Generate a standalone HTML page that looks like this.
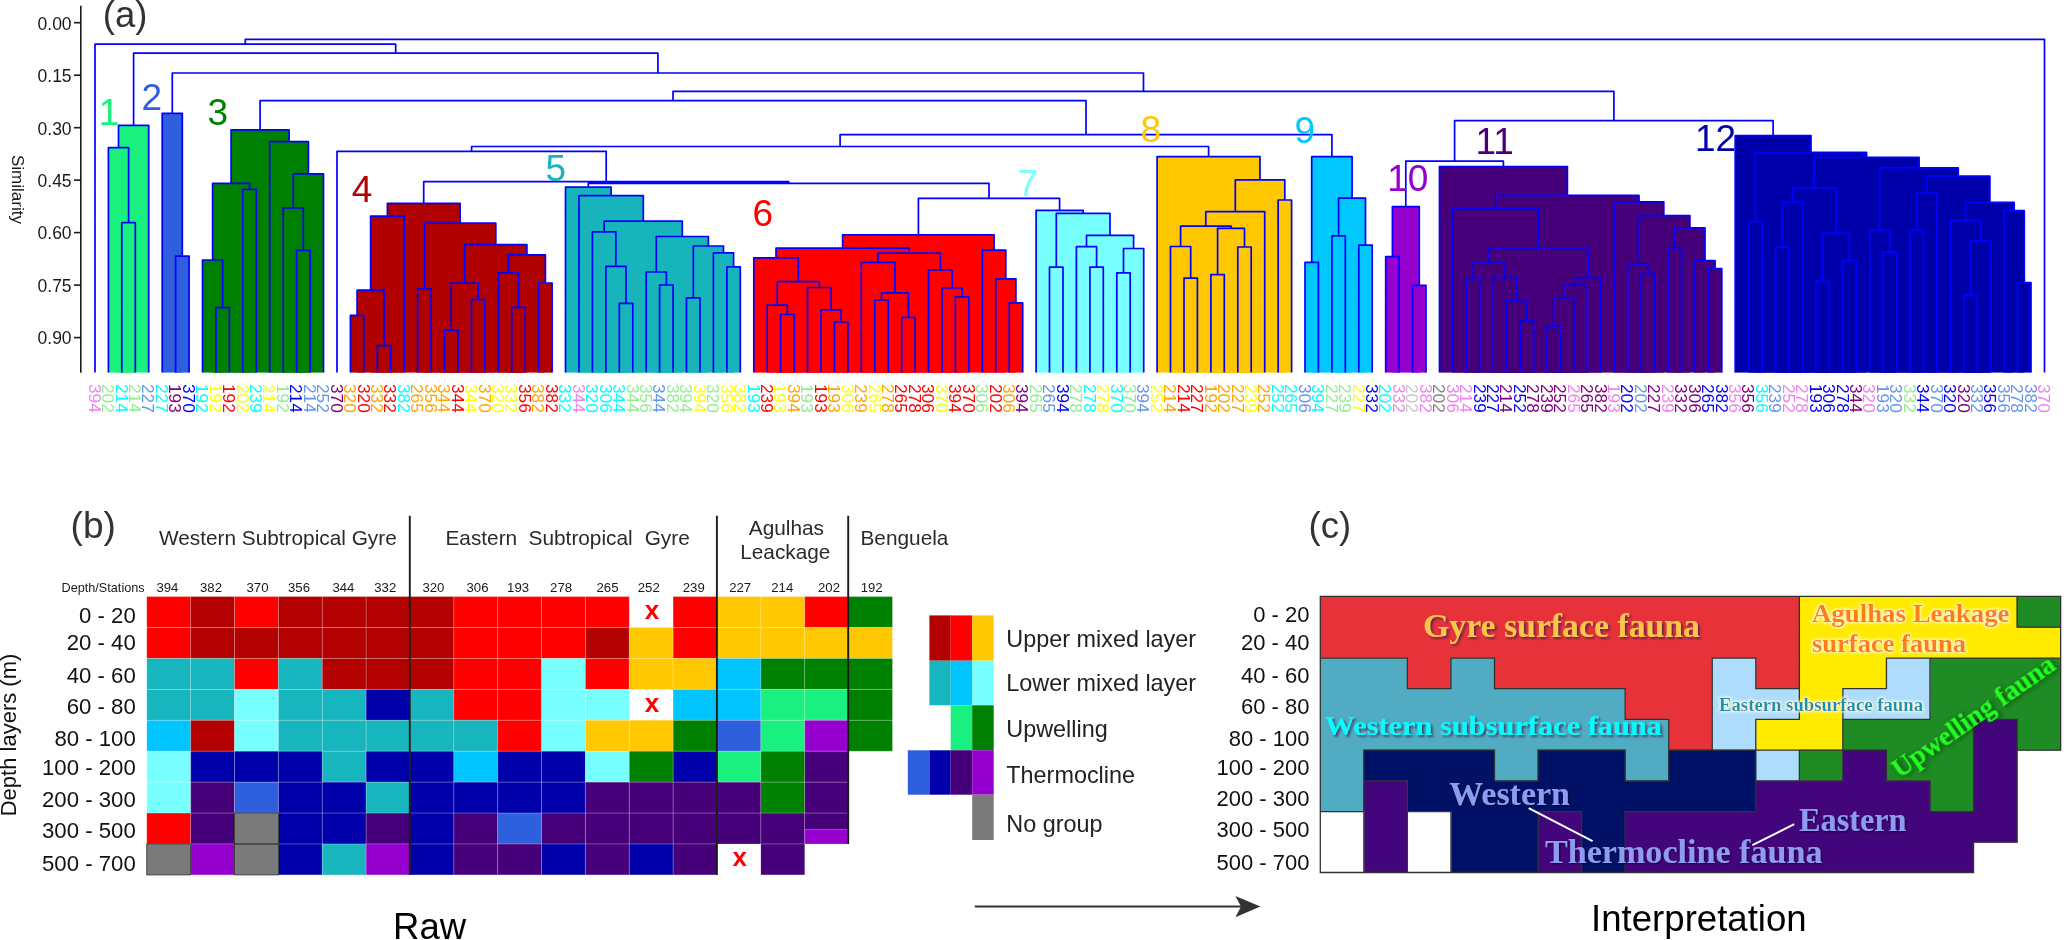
<!DOCTYPE html><html><head><meta charset="utf-8"><style>html,body{margin:0;padding:0;background:#fff}svg{display:block;will-change:transform}text{font-family:"Liberation Sans",sans-serif}text.sf{font-family:"Liberation Serif",serif;font-weight:bold}</style></head><body>
<svg width="2067" height="940" viewBox="0 0 2067 940">
<rect width="2067" height="940" fill="#fff"/>
<defs>
<filter id="shd" x="-10%" y="-30%" width="120%" height="160%"><feGaussianBlur in="SourceAlpha" stdDeviation="1.3"/><feOffset dx="1.5" dy="1.5" result="b"/><feFlood flood-color="#3a2050" flood-opacity="0.75"/><feComposite in2="b" operator="in"/><feMerge><feMergeNode/><feMergeNode in="SourceGraphic"/></feMerge></filter>
<filter id="shd2" x="-10%" y="-30%" width="120%" height="160%"><feGaussianBlur in="SourceAlpha" stdDeviation="1.2"/><feOffset dx="1.2" dy="1.2" result="b"/><feFlood flood-color="#000" flood-opacity="0.6"/><feComposite in2="b" operator="in"/><feMerge><feMergeNode/><feMergeNode in="SourceGraphic"/></feMerge></filter>
<filter id="shd3" x="-20%" y="-50%" width="140%" height="200%"><feGaussianBlur in="SourceAlpha" stdDeviation="2.5"/><feOffset dx="1.5" dy="2" result="b"/><feFlood flood-color="#0a3a0a" flood-opacity="0.8"/><feComposite in2="b" operator="in"/><feMerge><feMergeNode/><feMergeNode in="SourceGraphic"/></feMerge></filter>
<filter id="glw" x="-10%" y="-30%" width="120%" height="160%"><feMorphology in="SourceAlpha" operator="dilate" radius="0.8"/><feGaussianBlur stdDeviation="1.4" result="b"/><feFlood flood-color="#fffbe0" flood-opacity="0.95"/><feComposite in2="b" operator="in"/><feMerge><feMergeNode/><feMergeNode in="SourceGraphic"/></feMerge></filter>
</defs>
<text x="102.8" y="26.6" font-size="36.5" fill="#333">(a)</text>
<path d="M80.8 5.7V372.7" stroke="#1a1a1a" stroke-width="1.6" fill="none"/>
<path d="M74 22.7H81" stroke="#1a1a1a" stroke-width="1.6"/>
<text x="71.6" y="29.5" font-size="17.5" fill="#1a1a1a" text-anchor="end">0.00</text>
<path d="M74 75.2H81" stroke="#1a1a1a" stroke-width="1.6"/>
<text x="71.6" y="82.0" font-size="17.5" fill="#1a1a1a" text-anchor="end">0.15</text>
<path d="M74 127.7H81" stroke="#1a1a1a" stroke-width="1.6"/>
<text x="71.6" y="134.5" font-size="17.5" fill="#1a1a1a" text-anchor="end">0.30</text>
<path d="M74 180.1H81" stroke="#1a1a1a" stroke-width="1.6"/>
<text x="71.6" y="186.9" font-size="17.5" fill="#1a1a1a" text-anchor="end">0.45</text>
<path d="M74 232.6H81" stroke="#1a1a1a" stroke-width="1.6"/>
<text x="71.6" y="239.4" font-size="17.5" fill="#1a1a1a" text-anchor="end">0.60</text>
<path d="M74 285.1H81" stroke="#1a1a1a" stroke-width="1.6"/>
<text x="71.6" y="291.9" font-size="17.5" fill="#1a1a1a" text-anchor="end">0.75</text>
<path d="M74 337.6H81" stroke="#1a1a1a" stroke-width="1.6"/>
<text x="71.6" y="344.4" font-size="17.5" fill="#1a1a1a" text-anchor="end">0.90</text>
<text transform="translate(11.6 155) rotate(90)" font-size="17" fill="#1a1a1a">Similarity</text>
<rect x="118.5" y="125.3" width="30.3" height="247.3" fill="#19f07d"/>
<rect x="108.4" y="147.7" width="20.2" height="224.9" fill="#19f07d"/>
<rect x="121.8" y="222.7" width="13.4" height="149.9" fill="#19f07d"/>
<rect x="162.2" y="113.4" width="20.2" height="259.2" fill="#2f5fdc"/>
<rect x="175.6" y="256.1" width="13.4" height="116.5" fill="#2f5fdc"/>
<rect x="231.1" y="129.8" width="58.0" height="242.8" fill="#008000"/>
<rect x="212.6" y="183.4" width="37.0" height="189.2" fill="#008000"/>
<rect x="202.5" y="260.0" width="20.2" height="112.6" fill="#008000"/>
<rect x="216.0" y="307.6" width="13.4" height="65.0" fill="#008000"/>
<rect x="242.8" y="189.4" width="13.4" height="183.2" fill="#008000"/>
<rect x="269.7" y="141.7" width="38.7" height="230.9" fill="#008000"/>
<rect x="293.3" y="173.9" width="30.3" height="198.7" fill="#008000"/>
<rect x="283.2" y="208.0" width="20.2" height="164.6" fill="#008000"/>
<rect x="296.6" y="250.4" width="13.4" height="122.2" fill="#008000"/>
<rect x="387.4" y="203.3" width="72.7" height="169.3" fill="#b00000"/>
<rect x="370.6" y="216.1" width="33.6" height="156.5" fill="#b00000"/>
<rect x="357.1" y="290.2" width="26.9" height="82.4" fill="#b00000"/>
<rect x="350.4" y="315.4" width="13.4" height="57.2" fill="#b00000"/>
<rect x="377.3" y="345.6" width="13.4" height="27.0" fill="#b00000"/>
<rect x="424.4" y="223.0" width="71.4" height="149.6" fill="#b00000"/>
<rect x="417.6" y="288.9" width="13.4" height="83.7" fill="#b00000"/>
<rect x="464.7" y="244.7" width="62.2" height="127.9" fill="#b00000"/>
<rect x="451.2" y="283.0" width="26.9" height="89.6" fill="#b00000"/>
<rect x="444.5" y="330.2" width="13.4" height="42.4" fill="#b00000"/>
<rect x="471.4" y="299.6" width="13.4" height="73.0" fill="#b00000"/>
<rect x="508.4" y="254.9" width="37.0" height="117.7" fill="#b00000"/>
<rect x="498.3" y="272.8" width="20.2" height="99.8" fill="#b00000"/>
<rect x="511.7" y="307.3" width="13.4" height="65.3" fill="#b00000"/>
<rect x="538.6" y="283.0" width="13.4" height="89.6" fill="#b00000"/>
<rect x="565.5" y="187.2" width="45.6" height="185.4" fill="#17b4bc"/>
<rect x="579.0" y="195.7" width="64.3" height="176.9" fill="#17b4bc"/>
<rect x="604.2" y="221.2" width="78.1" height="151.4" fill="#17b4bc"/>
<rect x="592.4" y="231.9" width="23.5" height="140.7" fill="#17b4bc"/>
<rect x="605.9" y="266.4" width="20.2" height="106.2" fill="#17b4bc"/>
<rect x="619.3" y="303.4" width="13.4" height="69.2" fill="#17b4bc"/>
<rect x="656.3" y="236.5" width="52.1" height="136.1" fill="#17b4bc"/>
<rect x="646.2" y="272.0" width="20.2" height="100.6" fill="#17b4bc"/>
<rect x="659.6" y="285.0" width="13.4" height="87.6" fill="#17b4bc"/>
<rect x="693.3" y="246.0" width="30.3" height="126.6" fill="#17b4bc"/>
<rect x="686.5" y="297.8" width="13.4" height="74.8" fill="#17b4bc"/>
<rect x="713.4" y="252.9" width="20.2" height="119.7" fill="#17b4bc"/>
<rect x="726.9" y="266.9" width="13.4" height="105.7" fill="#17b4bc"/>
<rect x="842.6" y="234.9" width="151.5" height="137.7" fill="#ff0000"/>
<rect x="776.0" y="248.2" width="133.2" height="124.4" fill="#ff0000"/>
<rect x="753.8" y="257.8" width="44.5" height="114.8" fill="#ff0000"/>
<rect x="777.3" y="281.7" width="42.0" height="90.9" fill="#ff0000"/>
<rect x="767.2" y="305.1" width="20.2" height="67.5" fill="#ff0000"/>
<rect x="780.6" y="314.5" width="13.4" height="58.1" fill="#ff0000"/>
<rect x="807.5" y="287.5" width="23.5" height="85.1" fill="#ff0000"/>
<rect x="821.0" y="309.8" width="20.2" height="62.8" fill="#ff0000"/>
<rect x="834.4" y="322.0" width="13.4" height="50.6" fill="#ff0000"/>
<rect x="878.1" y="253.1" width="62.2" height="119.5" fill="#ff0000"/>
<rect x="861.3" y="262.3" width="33.6" height="110.3" fill="#ff0000"/>
<rect x="881.5" y="292.9" width="26.9" height="79.7" fill="#ff0000"/>
<rect x="874.8" y="300.0" width="13.4" height="72.6" fill="#ff0000"/>
<rect x="901.7" y="317.3" width="13.4" height="55.3" fill="#ff0000"/>
<rect x="928.5" y="270.0" width="23.5" height="102.6" fill="#ff0000"/>
<rect x="942.0" y="288.0" width="20.2" height="84.6" fill="#ff0000"/>
<rect x="955.4" y="296.9" width="13.4" height="75.7" fill="#ff0000"/>
<rect x="982.3" y="250.1" width="23.5" height="122.5" fill="#ff0000"/>
<rect x="995.8" y="278.9" width="20.2" height="93.7" fill="#ff0000"/>
<rect x="1009.2" y="302.8" width="13.4" height="69.8" fill="#ff0000"/>
<rect x="1036.1" y="210.3" width="47.1" height="162.3" fill="#78ffff"/>
<rect x="1056.3" y="213.4" width="53.8" height="159.2" fill="#78ffff"/>
<rect x="1049.5" y="267.2" width="13.4" height="105.4" fill="#78ffff"/>
<rect x="1086.5" y="235.4" width="47.1" height="137.2" fill="#78ffff"/>
<rect x="1076.4" y="246.6" width="20.2" height="126.0" fill="#78ffff"/>
<rect x="1089.9" y="267.2" width="13.4" height="105.4" fill="#78ffff"/>
<rect x="1123.5" y="248.5" width="20.2" height="124.1" fill="#78ffff"/>
<rect x="1116.8" y="272.8" width="13.4" height="99.8" fill="#78ffff"/>
<rect x="1157.1" y="156.6" width="102.9" height="216.0" fill="#ffc800"/>
<rect x="1235.3" y="179.8" width="49.6" height="192.8" fill="#ffc800"/>
<rect x="1205.8" y="211.7" width="58.8" height="160.9" fill="#ffc800"/>
<rect x="1180.6" y="226.1" width="50.4" height="146.5" fill="#ffc800"/>
<rect x="1170.5" y="246.5" width="20.2" height="126.1" fill="#ffc800"/>
<rect x="1184.0" y="278.1" width="13.4" height="94.5" fill="#ffc800"/>
<rect x="1217.6" y="228.4" width="26.9" height="144.2" fill="#ffc800"/>
<rect x="1210.9" y="274.7" width="13.4" height="97.9" fill="#ffc800"/>
<rect x="1237.8" y="247.0" width="13.4" height="125.6" fill="#ffc800"/>
<rect x="1278.1" y="200.0" width="13.4" height="172.6" fill="#ffc800"/>
<rect x="1311.7" y="156.6" width="40.3" height="216.0" fill="#00c8ff"/>
<rect x="1305.0" y="262.3" width="13.4" height="110.3" fill="#00c8ff"/>
<rect x="1338.6" y="198.2" width="26.9" height="174.4" fill="#00c8ff"/>
<rect x="1331.9" y="235.9" width="13.4" height="136.7" fill="#00c8ff"/>
<rect x="1358.8" y="245.1" width="13.4" height="127.5" fill="#00c8ff"/>
<rect x="1392.4" y="206.6" width="26.9" height="166.0" fill="#9500cf"/>
<rect x="1385.7" y="256.6" width="13.4" height="116.0" fill="#9500cf"/>
<rect x="1412.6" y="285.3" width="13.4" height="87.3" fill="#9500cf"/>
<rect x="1439.5" y="166.6" width="127.9" height="206.0" fill="#46007a"/>
<rect x="1495.8" y="195.3" width="143.3" height="177.3" fill="#46007a"/>
<rect x="1452.9" y="208.7" width="85.7" height="163.9" fill="#46007a"/>
<rect x="1489.0" y="249.1" width="99.2" height="123.5" fill="#46007a"/>
<rect x="1473.1" y="263.0" width="31.9" height="109.6" fill="#46007a"/>
<rect x="1466.3" y="278.0" width="13.4" height="94.6" fill="#46007a"/>
<rect x="1493.2" y="277.7" width="23.5" height="94.9" fill="#46007a"/>
<rect x="1506.7" y="300.5" width="20.2" height="72.1" fill="#46007a"/>
<rect x="1520.1" y="320.8" width="13.4" height="51.8" fill="#46007a"/>
<rect x="1575.6" y="277.7" width="25.2" height="94.9" fill="#46007a"/>
<rect x="1563.8" y="285.1" width="23.5" height="87.5" fill="#46007a"/>
<rect x="1553.7" y="298.0" width="20.2" height="74.6" fill="#46007a"/>
<rect x="1547.0" y="326.2" width="13.4" height="46.4" fill="#46007a"/>
<rect x="1614.2" y="201.9" width="49.6" height="170.7" fill="#46007a"/>
<rect x="1637.8" y="215.6" width="52.1" height="157.0" fill="#46007a"/>
<rect x="1627.7" y="263.8" width="20.2" height="108.8" fill="#46007a"/>
<rect x="1641.1" y="273.6" width="13.4" height="99.0" fill="#46007a"/>
<rect x="1674.7" y="227.8" width="30.3" height="144.8" fill="#46007a"/>
<rect x="1668.0" y="247.9" width="13.4" height="124.7" fill="#46007a"/>
<rect x="1694.9" y="260.6" width="20.2" height="112.0" fill="#46007a"/>
<rect x="1708.4" y="268.7" width="13.4" height="103.9" fill="#46007a"/>
<rect x="1735.2" y="135.6" width="75.8" height="237.0" fill="#0000aa"/>
<rect x="1755.4" y="152.4" width="111.2" height="220.2" fill="#0000aa"/>
<rect x="1748.7" y="221.5" width="13.4" height="151.1" fill="#0000aa"/>
<rect x="1814.2" y="157.3" width="104.8" height="215.3" fill="#0000aa"/>
<rect x="1792.4" y="187.8" width="43.7" height="184.8" fill="#0000aa"/>
<rect x="1782.3" y="202.4" width="20.2" height="170.2" fill="#0000aa"/>
<rect x="1775.6" y="247.2" width="13.4" height="125.4" fill="#0000aa"/>
<rect x="1822.6" y="233.4" width="26.9" height="139.2" fill="#0000aa"/>
<rect x="1815.9" y="281.3" width="13.4" height="91.3" fill="#0000aa"/>
<rect x="1842.8" y="260.5" width="13.4" height="112.1" fill="#0000aa"/>
<rect x="1879.8" y="167.9" width="78.6" height="204.7" fill="#0000aa"/>
<rect x="1869.7" y="229.8" width="20.2" height="142.8" fill="#0000aa"/>
<rect x="1883.1" y="252.2" width="13.4" height="120.4" fill="#0000aa"/>
<rect x="1926.8" y="176.2" width="63.0" height="196.4" fill="#0000aa"/>
<rect x="1916.7" y="192.8" width="20.2" height="179.8" fill="#0000aa"/>
<rect x="1910.0" y="229.8" width="13.4" height="142.8" fill="#0000aa"/>
<rect x="1965.5" y="202.4" width="48.7" height="170.2" fill="#0000aa"/>
<rect x="1950.4" y="220.4" width="30.3" height="152.2" fill="#0000aa"/>
<rect x="1970.5" y="240.9" width="20.2" height="131.7" fill="#0000aa"/>
<rect x="1963.8" y="294.8" width="13.4" height="77.8" fill="#0000aa"/>
<rect x="2004.1" y="210.7" width="20.2" height="161.9" fill="#0000aa"/>
<rect x="2017.6" y="282.7" width="13.4" height="89.9" fill="#0000aa"/>
<path d="M245.3 44.2V39.4H2044.5V372.6M95.0 372.6V44.2H395.7V53.2M133.6 125.3V53.2H657.9V73.0M118.5 147.7V125.3H148.7V372.6M108.4 372.6V147.7H128.6V222.7M121.8 372.6V222.7H135.3V372.6M172.3 113.4V73.0H1143.5V91.3M162.2 372.6V113.4H182.3V256.1M175.6 372.6V256.1H189.1V372.6M673.0 100.6V91.3H1613.9V120.6M260.1 129.8V100.6H1086.0V134.6M231.1 183.4V129.8H289.1V141.7M212.6 260.0V183.4H249.6V189.4M202.5 372.6V260.0H222.7V307.6M216.0 372.6V307.6H229.4V372.6M242.8 372.6V189.4H256.3V372.6M269.7 372.6V141.7H308.4V173.9M293.3 208.0V173.9H323.5V372.6M283.2 372.6V208.0H303.3V250.4M296.6 372.6V250.4H310.1V372.6M840.1 146.5V134.6H1331.9V156.6M471.6 151.3V146.5H1208.6V156.6M337.0 372.6V151.3H606.2V181.6M423.7 203.3V181.6H788.7V183.4M387.4 216.1V203.3H460.1V223.0M370.6 290.2V216.1H404.2V372.6M357.1 315.4V290.2H384.0V345.6M350.4 372.6V315.4H363.8V372.6M377.3 372.6V345.6H390.7V372.6M424.4 288.9V223.0H495.8V244.7M417.6 372.6V288.9H431.1V372.6M464.7 283.0V244.7H526.9V254.9M451.2 330.2V283.0H478.1V299.6M444.5 372.6V330.2H458.0V372.6M471.4 372.6V299.6H484.9V372.6M508.4 272.8V254.9H545.4V283.0M498.3 372.6V272.8H518.5V307.3M511.7 372.6V307.3H525.2V372.6M538.6 372.6V283.0H552.1V372.6M588.3 187.2V183.4H989.0V198.4M565.5 372.6V187.2H611.1V195.7M579.0 372.6V195.7H643.3V221.2M604.2 231.9V221.2H682.3V236.5M592.4 372.6V231.9H615.9V266.4M605.9 372.6V266.4H626.0V303.4M619.3 372.6V303.4H632.8V372.6M656.3 272.0V236.5H708.4V246.0M646.2 372.6V272.0H666.4V285.0M659.6 372.6V285.0H673.1V372.6M693.3 297.8V246.0H723.5V252.9M686.5 372.6V297.8H700.0V372.6M713.4 372.6V252.9H733.6V266.9M726.9 372.6V266.9H740.3V372.6M918.4 234.9V198.4H1059.6V210.3M842.6 248.2V234.9H994.1V250.1M776.0 257.8V248.2H909.2V253.1M753.8 372.6V257.8H798.3V281.7M777.3 305.1V281.7H819.3V287.5M767.2 372.6V305.1H787.4V314.5M780.6 372.6V314.5H794.1V372.6M807.5 372.6V287.5H831.1V309.8M821.0 372.6V309.8H841.1V322.0M834.4 372.6V322.0H847.9V372.6M878.1 262.3V253.1H940.3V270.0M861.3 372.6V262.3H894.9V292.9M881.5 300.0V292.9H908.4V317.3M874.8 372.6V300.0H888.2V372.6M901.7 372.6V317.3H915.1V372.6M928.5 372.6V270.0H952.1V288.0M942.0 372.6V288.0H962.2V296.9M955.4 372.6V296.9H968.9V372.6M982.3 372.6V250.1H1005.8V278.9M995.8 372.6V278.9H1015.9V302.8M1009.2 372.6V302.8H1022.7V372.6M1036.1 372.6V210.3H1083.2V213.4M1056.3 267.2V213.4H1110.0V235.4M1049.5 372.6V267.2H1063.0V372.6M1086.5 246.6V235.4H1133.6V248.5M1076.4 372.6V246.6H1096.6V267.2M1089.9 372.6V267.2H1103.3V372.6M1123.5 272.8V248.5H1143.7V372.6M1116.8 372.6V272.8H1130.2V372.6M1157.1 372.6V156.6H1260.0V179.8M1235.3 211.7V179.8H1284.8V200.0M1205.8 226.1V211.7H1264.7V372.6M1180.6 246.5V226.1H1231.1V228.4M1170.5 372.6V246.5H1190.7V278.1M1184.0 372.6V278.1H1197.4V372.6M1217.6 274.7V228.4H1244.5V247.0M1210.9 372.6V274.7H1224.3V372.6M1237.8 372.6V247.0H1251.2V372.6M1278.1 372.6V200.0H1291.6V372.6M1311.7 262.3V156.6H1352.1V198.2M1305.0 372.6V262.3H1318.4V372.6M1338.6 235.9V198.2H1365.5V245.1M1331.9 372.6V235.9H1345.3V372.6M1358.8 372.6V245.1H1372.2V372.6M1454.6 161.2V120.6H1773.1V135.6M1405.8 206.6V161.2H1503.4V166.6M1392.4 256.6V206.6H1419.3V285.3M1385.7 372.6V256.6H1399.1V372.6M1412.6 372.6V285.3H1426.0V372.6M1439.5 372.6V166.6H1567.4V195.3M1495.8 208.7V195.3H1639.0V201.9M1452.9 372.6V208.7H1538.6V249.1M1489.0 263.0V249.1H1588.2V277.7M1473.1 278.0V263.0H1505.0V277.7M1466.3 372.6V278.0H1479.8V372.6M1493.2 372.6V277.7H1516.8V300.5M1506.7 372.6V300.5H1526.8V320.8M1520.1 372.6V320.8H1533.6V372.6M1575.6 285.1V277.7H1600.8V372.6M1563.8 298.0V285.1H1587.3V372.6M1553.7 326.2V298.0H1573.9V372.6M1547.0 372.6V326.2H1560.5V372.6M1614.2 372.6V201.9H1663.8V215.6M1637.8 263.8V215.6H1689.9V227.8M1627.7 372.6V263.8H1647.8V273.6M1641.1 372.6V273.6H1654.6V372.6M1674.7 247.9V227.8H1705.0V260.6M1668.0 372.6V247.9H1681.5V372.6M1694.9 372.6V260.6H1715.1V268.7M1708.4 372.6V268.7H1721.8V372.6M1735.2 372.6V135.6H1811.0V152.4M1755.4 221.5V152.4H1866.6V157.3M1748.7 372.6V221.5H1762.1V372.6M1814.2 187.8V157.3H1919.1V167.9M1792.4 202.4V187.8H1836.1V233.4M1782.3 247.2V202.4H1802.5V372.6M1775.6 372.6V247.2H1789.0V372.6M1822.6 281.3V233.4H1849.5V260.5M1815.9 372.6V281.3H1829.4V372.6M1842.8 372.6V260.5H1856.2V372.6M1879.8 229.8V167.9H1958.3V176.2M1869.7 372.6V229.8H1889.9V252.2M1883.1 372.6V252.2H1896.6V372.6M1926.8 192.8V176.2H1989.9V202.4M1916.7 229.8V192.8H1936.9V372.6M1910.0 372.6V229.8H1923.5V372.6M1965.5 220.4V202.4H2014.2V210.7M1950.4 372.6V220.4H1980.6V240.9M1970.5 294.8V240.9H1990.7V372.6M1963.8 372.6V294.8H1977.2V372.6M2004.1 372.6V210.7H2024.3V282.7M2017.6 372.6V282.7H2031.0V372.6" stroke="#0000ff" stroke-width="1.7" fill="none" stroke-linejoin="round"/>
<text class="cn" x="98.8" y="125.0" font-size="37" fill="#19f07d">1</text>
<text class="cn" x="141.6" y="109.6" font-size="37" fill="#2f5fdc">2</text>
<text class="cn" x="207.6" y="125.1" font-size="37" fill="#008000">3</text>
<text class="cn" x="351.8" y="201.9" font-size="37" fill="#b00000">4</text>
<text class="cn" x="545.4" y="180.5" font-size="37" fill="#17b4bc">5</text>
<text class="cn" x="752.4" y="225.7" font-size="37" fill="#ff0000">6</text>
<text class="cn" x="1017.6" y="196.1" font-size="37" fill="#78ffff">7</text>
<text class="cn" x="1140.4" y="141.8" font-size="37" fill="#ffc800">8</text>
<text class="cn" x="1294.5" y="143.1" font-size="37" fill="#00c8ff">9</text>
<text class="cn" x="1387.2" y="191.4" font-size="37" fill="#9500cf">10</text>
<text class="cn" x="1475.5" y="153.6" font-size="37" fill="#46007a">11</text>
<text class="cn" x="1694.9" y="151.2" font-size="37" fill="#0000aa">12</text>
<text transform="translate(95.0 384.0) rotate(90)" y="6.2" font-size="17.3" fill="#ee82ee">394</text>
<text transform="translate(108.4 384.0) rotate(90)" y="6.2" font-size="17.3" fill="#90ee90">202</text>
<text transform="translate(121.8 384.0) rotate(90)" y="6.2" font-size="17.3" fill="#00ffff">214</text>
<text transform="translate(135.3 384.0) rotate(90)" y="6.2" font-size="17.3" fill="#90ee90">214</text>
<text transform="translate(148.7 384.0) rotate(90)" y="6.2" font-size="17.3" fill="#6495ed">227</text>
<text transform="translate(162.2 384.0) rotate(90)" y="6.2" font-size="17.3" fill="#00ffff">227</text>
<text transform="translate(175.6 384.0) rotate(90)" y="6.2" font-size="17.3" fill="#800080">193</text>
<text transform="translate(189.1 384.0) rotate(90)" y="6.2" font-size="17.3" fill="#0000ff">370</text>
<text transform="translate(202.5 384.0) rotate(90)" y="6.2" font-size="17.3" fill="#00ffff">192</text>
<text transform="translate(216.0 384.0) rotate(90)" y="6.2" font-size="17.3" fill="#ffff00">192</text>
<text transform="translate(229.4 384.0) rotate(90)" y="6.2" font-size="17.3" fill="#ff0000">192</text>
<text transform="translate(242.8 384.0) rotate(90)" y="6.2" font-size="17.3" fill="#ffff00">202</text>
<text transform="translate(256.3 384.0) rotate(90)" y="6.2" font-size="17.3" fill="#00ffff">239</text>
<text transform="translate(269.7 384.0) rotate(90)" y="6.2" font-size="17.3" fill="#ffff00">214</text>
<text transform="translate(283.2 384.0) rotate(90)" y="6.2" font-size="17.3" fill="#90ee90">192</text>
<text transform="translate(296.6 384.0) rotate(90)" y="6.2" font-size="17.3" fill="#0000ff">214</text>
<text transform="translate(310.1 384.0) rotate(90)" y="6.2" font-size="17.3" fill="#6495ed">214</text>
<text transform="translate(323.5 384.0) rotate(90)" y="6.2" font-size="17.3" fill="#6495ed">252</text>
<text transform="translate(337.0 384.0) rotate(90)" y="6.2" font-size="17.3" fill="#800080">370</text>
<text transform="translate(350.4 384.0) rotate(90)" y="6.2" font-size="17.3" fill="#ffa500">320</text>
<text transform="translate(363.8 384.0) rotate(90)" y="6.2" font-size="17.3" fill="#ff0000">320</text>
<text transform="translate(377.3 384.0) rotate(90)" y="6.2" font-size="17.3" fill="#ffa500">332</text>
<text transform="translate(390.7 384.0) rotate(90)" y="6.2" font-size="17.3" fill="#ff0000">332</text>
<text transform="translate(404.2 384.0) rotate(90)" y="6.2" font-size="17.3" fill="#00ffff">382</text>
<text transform="translate(417.6 384.0) rotate(90)" y="6.2" font-size="17.3" fill="#ffa500">265</text>
<text transform="translate(431.1 384.0) rotate(90)" y="6.2" font-size="17.3" fill="#ffa500">356</text>
<text transform="translate(444.5 384.0) rotate(90)" y="6.2" font-size="17.3" fill="#ffa500">344</text>
<text transform="translate(458.0 384.0) rotate(90)" y="6.2" font-size="17.3" fill="#ff0000">344</text>
<text transform="translate(471.4 384.0) rotate(90)" y="6.2" font-size="17.3" fill="#ffff00">344</text>
<text transform="translate(484.9 384.0) rotate(90)" y="6.2" font-size="17.3" fill="#ffa500">370</text>
<text transform="translate(498.3 384.0) rotate(90)" y="6.2" font-size="17.3" fill="#ffff00">320</text>
<text transform="translate(511.7 384.0) rotate(90)" y="6.2" font-size="17.3" fill="#ffff00">332</text>
<text transform="translate(525.2 384.0) rotate(90)" y="6.2" font-size="17.3" fill="#ff0000">356</text>
<text transform="translate(538.6 384.0) rotate(90)" y="6.2" font-size="17.3" fill="#ffa500">382</text>
<text transform="translate(552.1 384.0) rotate(90)" y="6.2" font-size="17.3" fill="#ff0000">382</text>
<text transform="translate(565.5 384.0) rotate(90)" y="6.2" font-size="17.3" fill="#00ffff">332</text>
<text transform="translate(579.0 384.0) rotate(90)" y="6.2" font-size="17.3" fill="#ee82ee">344</text>
<text transform="translate(592.4 384.0) rotate(90)" y="6.2" font-size="17.3" fill="#00ffff">320</text>
<text transform="translate(605.9 384.0) rotate(90)" y="6.2" font-size="17.3" fill="#00ffff">306</text>
<text transform="translate(619.3 384.0) rotate(90)" y="6.2" font-size="17.3" fill="#00ffff">344</text>
<text transform="translate(632.8 384.0) rotate(90)" y="6.2" font-size="17.3" fill="#90ee90">344</text>
<text transform="translate(646.2 384.0) rotate(90)" y="6.2" font-size="17.3" fill="#90ee90">356</text>
<text transform="translate(659.6 384.0) rotate(90)" y="6.2" font-size="17.3" fill="#6495ed">344</text>
<text transform="translate(673.1 384.0) rotate(90)" y="6.2" font-size="17.3" fill="#90ee90">382</text>
<text transform="translate(686.5 384.0) rotate(90)" y="6.2" font-size="17.3" fill="#90ee90">394</text>
<text transform="translate(700.0 384.0) rotate(90)" y="6.2" font-size="17.3" fill="#ffff00">394</text>
<text transform="translate(713.4 384.0) rotate(90)" y="6.2" font-size="17.3" fill="#90ee90">320</text>
<text transform="translate(726.9 384.0) rotate(90)" y="6.2" font-size="17.3" fill="#ffff00">356</text>
<text transform="translate(740.3 384.0) rotate(90)" y="6.2" font-size="17.3" fill="#ffff00">382</text>
<text transform="translate(753.8 384.0) rotate(90)" y="6.2" font-size="17.3" fill="#00ffff">193</text>
<text transform="translate(767.2 384.0) rotate(90)" y="6.2" font-size="17.3" fill="#ff0000">239</text>
<text transform="translate(780.6 384.0) rotate(90)" y="6.2" font-size="17.3" fill="#ffff00">193</text>
<text transform="translate(794.1 384.0) rotate(90)" y="6.2" font-size="17.3" fill="#ffa500">394</text>
<text transform="translate(807.5 384.0) rotate(90)" y="6.2" font-size="17.3" fill="#90ee90">193</text>
<text transform="translate(821.0 384.0) rotate(90)" y="6.2" font-size="17.3" fill="#ff0000">193</text>
<text transform="translate(834.4 384.0) rotate(90)" y="6.2" font-size="17.3" fill="#ffa500">193</text>
<text transform="translate(847.9 384.0) rotate(90)" y="6.2" font-size="17.3" fill="#ffff00">306</text>
<text transform="translate(861.3 384.0) rotate(90)" y="6.2" font-size="17.3" fill="#ffa500">239</text>
<text transform="translate(874.8 384.0) rotate(90)" y="6.2" font-size="17.3" fill="#ffff00">265</text>
<text transform="translate(888.2 384.0) rotate(90)" y="6.2" font-size="17.3" fill="#ffa500">278</text>
<text transform="translate(901.7 384.0) rotate(90)" y="6.2" font-size="17.3" fill="#ff0000">265</text>
<text transform="translate(915.1 384.0) rotate(90)" y="6.2" font-size="17.3" fill="#ff0000">278</text>
<text transform="translate(928.5 384.0) rotate(90)" y="6.2" font-size="17.3" fill="#ff0000">306</text>
<text transform="translate(942.0 384.0) rotate(90)" y="6.2" font-size="17.3" fill="#ffff00">370</text>
<text transform="translate(955.4 384.0) rotate(90)" y="6.2" font-size="17.3" fill="#ff0000">394</text>
<text transform="translate(968.9 384.0) rotate(90)" y="6.2" font-size="17.3" fill="#ff0000">370</text>
<text transform="translate(982.3 384.0) rotate(90)" y="6.2" font-size="17.3" fill="#90ee90">306</text>
<text transform="translate(995.8 384.0) rotate(90)" y="6.2" font-size="17.3" fill="#ff0000">202</text>
<text transform="translate(1009.2 384.0) rotate(90)" y="6.2" font-size="17.3" fill="#ffa500">306</text>
<text transform="translate(1022.7 384.0) rotate(90)" y="6.2" font-size="17.3" fill="#800080">394</text>
<text transform="translate(1036.1 384.0) rotate(90)" y="6.2" font-size="17.3" fill="#90ee90">265</text>
<text transform="translate(1049.5 384.0) rotate(90)" y="6.2" font-size="17.3" fill="#6495ed">265</text>
<text transform="translate(1063.0 384.0) rotate(90)" y="6.2" font-size="17.3" fill="#0000ff">394</text>
<text transform="translate(1076.4 384.0) rotate(90)" y="6.2" font-size="17.3" fill="#90ee90">278</text>
<text transform="translate(1089.9 384.0) rotate(90)" y="6.2" font-size="17.3" fill="#00ffff">278</text>
<text transform="translate(1103.3 384.0) rotate(90)" y="6.2" font-size="17.3" fill="#ffff00">278</text>
<text transform="translate(1116.8 384.0) rotate(90)" y="6.2" font-size="17.3" fill="#00ffff">370</text>
<text transform="translate(1130.2 384.0) rotate(90)" y="6.2" font-size="17.3" fill="#90ee90">370</text>
<text transform="translate(1143.7 384.0) rotate(90)" y="6.2" font-size="17.3" fill="#6495ed">394</text>
<text transform="translate(1157.1 384.0) rotate(90)" y="6.2" font-size="17.3" fill="#ffff00">252</text>
<text transform="translate(1170.5 384.0) rotate(90)" y="6.2" font-size="17.3" fill="#ffa500">214</text>
<text transform="translate(1184.0 384.0) rotate(90)" y="6.2" font-size="17.3" fill="#ff0000">214</text>
<text transform="translate(1197.4 384.0) rotate(90)" y="6.2" font-size="17.3" fill="#ff0000">227</text>
<text transform="translate(1210.9 384.0) rotate(90)" y="6.2" font-size="17.3" fill="#ffa500">192</text>
<text transform="translate(1224.3 384.0) rotate(90)" y="6.2" font-size="17.3" fill="#ffa500">202</text>
<text transform="translate(1237.8 384.0) rotate(90)" y="6.2" font-size="17.3" fill="#ffa500">227</text>
<text transform="translate(1251.2 384.0) rotate(90)" y="6.2" font-size="17.3" fill="#ffff00">239</text>
<text transform="translate(1264.7 384.0) rotate(90)" y="6.2" font-size="17.3" fill="#ffa500">252</text>
<text transform="translate(1278.1 384.0) rotate(90)" y="6.2" font-size="17.3" fill="#00ffff">252</text>
<text transform="translate(1291.6 384.0) rotate(90)" y="6.2" font-size="17.3" fill="#00ffff">265</text>
<text transform="translate(1305.0 384.0) rotate(90)" y="6.2" font-size="17.3" fill="#6495ed">306</text>
<text transform="translate(1318.4 384.0) rotate(90)" y="6.2" font-size="17.3" fill="#00ffff">394</text>
<text transform="translate(1331.9 384.0) rotate(90)" y="6.2" font-size="17.3" fill="#90ee90">227</text>
<text transform="translate(1345.3 384.0) rotate(90)" y="6.2" font-size="17.3" fill="#90ee90">239</text>
<text transform="translate(1358.8 384.0) rotate(90)" y="6.2" font-size="17.3" fill="#ffff00">227</text>
<text transform="translate(1372.2 384.0) rotate(90)" y="6.2" font-size="17.3" fill="#0000ff">332</text>
<text transform="translate(1385.7 384.0) rotate(90)" y="6.2" font-size="17.3" fill="#00ffff">202</text>
<text transform="translate(1399.1 384.0) rotate(90)" y="6.2" font-size="17.3" fill="#ee82ee">332</text>
<text transform="translate(1412.6 384.0) rotate(90)" y="6.2" font-size="17.3" fill="#c8c8c8">202</text>
<text transform="translate(1426.0 384.0) rotate(90)" y="6.2" font-size="17.3" fill="#ee82ee">382</text>
<text transform="translate(1439.5 384.0) rotate(90)" y="6.2" font-size="17.3" fill="#808080">202</text>
<text transform="translate(1452.9 384.0) rotate(90)" y="6.2" font-size="17.3" fill="#ee82ee">306</text>
<text transform="translate(1466.3 384.0) rotate(90)" y="6.2" font-size="17.3" fill="#ee82ee">214</text>
<text transform="translate(1479.8 384.0) rotate(90)" y="6.2" font-size="17.3" fill="#0000ff">239</text>
<text transform="translate(1493.2 384.0) rotate(90)" y="6.2" font-size="17.3" fill="#0000ff">227</text>
<text transform="translate(1506.7 384.0) rotate(90)" y="6.2" font-size="17.3" fill="#800080">214</text>
<text transform="translate(1520.1 384.0) rotate(90)" y="6.2" font-size="17.3" fill="#0000ff">252</text>
<text transform="translate(1533.6 384.0) rotate(90)" y="6.2" font-size="17.3" fill="#800080">278</text>
<text transform="translate(1547.0 384.0) rotate(90)" y="6.2" font-size="17.3" fill="#800080">239</text>
<text transform="translate(1560.5 384.0) rotate(90)" y="6.2" font-size="17.3" fill="#800080">252</text>
<text transform="translate(1573.9 384.0) rotate(90)" y="6.2" font-size="17.3" fill="#ee82ee">265</text>
<text transform="translate(1587.3 384.0) rotate(90)" y="6.2" font-size="17.3" fill="#800080">265</text>
<text transform="translate(1600.8 384.0) rotate(90)" y="6.2" font-size="17.3" fill="#800080">382</text>
<text transform="translate(1614.2 384.0) rotate(90)" y="6.2" font-size="17.3" fill="#ee82ee">193</text>
<text transform="translate(1627.7 384.0) rotate(90)" y="6.2" font-size="17.3" fill="#0000ff">202</text>
<text transform="translate(1641.1 384.0) rotate(90)" y="6.2" font-size="17.3" fill="#6495ed">202</text>
<text transform="translate(1654.6 384.0) rotate(90)" y="6.2" font-size="17.3" fill="#800080">227</text>
<text transform="translate(1668.0 384.0) rotate(90)" y="6.2" font-size="17.3" fill="#ee82ee">239</text>
<text transform="translate(1681.5 384.0) rotate(90)" y="6.2" font-size="17.3" fill="#800080">332</text>
<text transform="translate(1694.9 384.0) rotate(90)" y="6.2" font-size="17.3" fill="#800080">306</text>
<text transform="translate(1708.4 384.0) rotate(90)" y="6.2" font-size="17.3" fill="#0000ff">265</text>
<text transform="translate(1721.8 384.0) rotate(90)" y="6.2" font-size="17.3" fill="#0000ff">382</text>
<text transform="translate(1735.2 384.0) rotate(90)" y="6.2" font-size="17.3" fill="#ee82ee">356</text>
<text transform="translate(1748.7 384.0) rotate(90)" y="6.2" font-size="17.3" fill="#800080">356</text>
<text transform="translate(1762.1 384.0) rotate(90)" y="6.2" font-size="17.3" fill="#00ffff">356</text>
<text transform="translate(1775.6 384.0) rotate(90)" y="6.2" font-size="17.3" fill="#6495ed">239</text>
<text transform="translate(1789.0 384.0) rotate(90)" y="6.2" font-size="17.3" fill="#ee82ee">252</text>
<text transform="translate(1802.5 384.0) rotate(90)" y="6.2" font-size="17.3" fill="#ee82ee">278</text>
<text transform="translate(1815.9 384.0) rotate(90)" y="6.2" font-size="17.3" fill="#0000ff">193</text>
<text transform="translate(1829.4 384.0) rotate(90)" y="6.2" font-size="17.3" fill="#0000ff">306</text>
<text transform="translate(1842.8 384.0) rotate(90)" y="6.2" font-size="17.3" fill="#0000ff">278</text>
<text transform="translate(1856.2 384.0) rotate(90)" y="6.2" font-size="17.3" fill="#800080">344</text>
<text transform="translate(1869.7 384.0) rotate(90)" y="6.2" font-size="17.3" fill="#ee82ee">320</text>
<text transform="translate(1883.1 384.0) rotate(90)" y="6.2" font-size="17.3" fill="#6495ed">193</text>
<text transform="translate(1896.6 384.0) rotate(90)" y="6.2" font-size="17.3" fill="#6495ed">320</text>
<text transform="translate(1910.0 384.0) rotate(90)" y="6.2" font-size="17.3" fill="#90ee90">332</text>
<text transform="translate(1923.5 384.0) rotate(90)" y="6.2" font-size="17.3" fill="#0000ff">344</text>
<text transform="translate(1936.9 384.0) rotate(90)" y="6.2" font-size="17.3" fill="#6495ed">370</text>
<text transform="translate(1950.4 384.0) rotate(90)" y="6.2" font-size="17.3" fill="#0000ff">320</text>
<text transform="translate(1963.8 384.0) rotate(90)" y="6.2" font-size="17.3" fill="#800080">320</text>
<text transform="translate(1977.2 384.0) rotate(90)" y="6.2" font-size="17.3" fill="#6495ed">332</text>
<text transform="translate(1990.7 384.0) rotate(90)" y="6.2" font-size="17.3" fill="#0000ff">356</text>
<text transform="translate(2004.1 384.0) rotate(90)" y="6.2" font-size="17.3" fill="#6495ed">356</text>
<text transform="translate(2017.6 384.0) rotate(90)" y="6.2" font-size="17.3" fill="#6495ed">278</text>
<text transform="translate(2031.0 384.0) rotate(90)" y="6.2" font-size="17.3" fill="#6495ed">382</text>
<text transform="translate(2044.5 384.0) rotate(90)" y="6.2" font-size="17.3" fill="#ee82ee">370</text>
<rect x="146.80" y="596.60" width="43.86" height="30.92" fill="#ff0000"/>
<rect x="190.66" y="596.60" width="43.86" height="30.92" fill="#b30000"/>
<rect x="234.52" y="596.60" width="43.86" height="30.92" fill="#ff0000"/>
<rect x="278.38" y="596.60" width="43.86" height="30.92" fill="#b30000"/>
<rect x="322.24" y="596.60" width="43.86" height="30.92" fill="#b30000"/>
<rect x="366.10" y="596.60" width="43.86" height="30.92" fill="#b30000"/>
<rect x="409.96" y="596.60" width="43.86" height="30.92" fill="#b30000"/>
<rect x="453.82" y="596.60" width="43.86" height="30.92" fill="#ff0000"/>
<rect x="497.68" y="596.60" width="43.86" height="30.92" fill="#ff0000"/>
<rect x="541.54" y="596.60" width="43.86" height="30.92" fill="#ff0000"/>
<rect x="585.40" y="596.60" width="43.86" height="30.92" fill="#ff0000"/>
<rect x="673.12" y="596.60" width="43.86" height="30.92" fill="#ff0000"/>
<rect x="716.98" y="596.60" width="43.86" height="30.92" fill="#ffc800"/>
<rect x="760.84" y="596.60" width="43.86" height="30.92" fill="#ffc800"/>
<rect x="804.70" y="596.60" width="43.86" height="30.92" fill="#ff0000"/>
<rect x="848.56" y="596.60" width="43.86" height="30.92" fill="#008000"/>
<rect x="146.80" y="627.52" width="43.86" height="30.92" fill="#ff0000"/>
<rect x="190.66" y="627.52" width="43.86" height="30.92" fill="#b30000"/>
<rect x="234.52" y="627.52" width="43.86" height="30.92" fill="#b30000"/>
<rect x="278.38" y="627.52" width="43.86" height="30.92" fill="#b30000"/>
<rect x="322.24" y="627.52" width="43.86" height="30.92" fill="#b30000"/>
<rect x="366.10" y="627.52" width="43.86" height="30.92" fill="#b30000"/>
<rect x="409.96" y="627.52" width="43.86" height="30.92" fill="#b30000"/>
<rect x="453.82" y="627.52" width="43.86" height="30.92" fill="#ff0000"/>
<rect x="497.68" y="627.52" width="43.86" height="30.92" fill="#ff0000"/>
<rect x="541.54" y="627.52" width="43.86" height="30.92" fill="#ff0000"/>
<rect x="585.40" y="627.52" width="43.86" height="30.92" fill="#b30000"/>
<rect x="629.26" y="627.52" width="43.86" height="30.92" fill="#ffc800"/>
<rect x="673.12" y="627.52" width="43.86" height="30.92" fill="#ff0000"/>
<rect x="716.98" y="627.52" width="43.86" height="30.92" fill="#ffc800"/>
<rect x="760.84" y="627.52" width="43.86" height="30.92" fill="#ffc800"/>
<rect x="804.70" y="627.52" width="43.86" height="30.92" fill="#ffc800"/>
<rect x="848.56" y="627.52" width="43.86" height="30.92" fill="#ffc800"/>
<rect x="146.80" y="658.44" width="43.86" height="30.92" fill="#17b5bd"/>
<rect x="190.66" y="658.44" width="43.86" height="30.92" fill="#17b5bd"/>
<rect x="234.52" y="658.44" width="43.86" height="30.92" fill="#ff0000"/>
<rect x="278.38" y="658.44" width="43.86" height="30.92" fill="#17b5bd"/>
<rect x="322.24" y="658.44" width="43.86" height="30.92" fill="#b30000"/>
<rect x="366.10" y="658.44" width="43.86" height="30.92" fill="#b30000"/>
<rect x="409.96" y="658.44" width="43.86" height="30.92" fill="#b30000"/>
<rect x="453.82" y="658.44" width="43.86" height="30.92" fill="#ff0000"/>
<rect x="497.68" y="658.44" width="43.86" height="30.92" fill="#ff0000"/>
<rect x="541.54" y="658.44" width="43.86" height="30.92" fill="#78ffff"/>
<rect x="585.40" y="658.44" width="43.86" height="30.92" fill="#ff0000"/>
<rect x="629.26" y="658.44" width="43.86" height="30.92" fill="#ffc800"/>
<rect x="673.12" y="658.44" width="43.86" height="30.92" fill="#ffc800"/>
<rect x="716.98" y="658.44" width="43.86" height="30.92" fill="#00c5ff"/>
<rect x="760.84" y="658.44" width="43.86" height="30.92" fill="#008000"/>
<rect x="804.70" y="658.44" width="43.86" height="30.92" fill="#008000"/>
<rect x="848.56" y="658.44" width="43.86" height="30.92" fill="#008000"/>
<rect x="146.80" y="689.36" width="43.86" height="30.92" fill="#17b5bd"/>
<rect x="190.66" y="689.36" width="43.86" height="30.92" fill="#17b5bd"/>
<rect x="234.52" y="689.36" width="43.86" height="30.92" fill="#78ffff"/>
<rect x="278.38" y="689.36" width="43.86" height="30.92" fill="#17b5bd"/>
<rect x="322.24" y="689.36" width="43.86" height="30.92" fill="#17b5bd"/>
<rect x="366.10" y="689.36" width="43.86" height="30.92" fill="#0000aa"/>
<rect x="409.96" y="689.36" width="43.86" height="30.92" fill="#17b5bd"/>
<rect x="453.82" y="689.36" width="43.86" height="30.92" fill="#ff0000"/>
<rect x="497.68" y="689.36" width="43.86" height="30.92" fill="#ff0000"/>
<rect x="541.54" y="689.36" width="43.86" height="30.92" fill="#78ffff"/>
<rect x="585.40" y="689.36" width="43.86" height="30.92" fill="#78ffff"/>
<rect x="673.12" y="689.36" width="43.86" height="30.92" fill="#00c5ff"/>
<rect x="716.98" y="689.36" width="43.86" height="30.92" fill="#00c5ff"/>
<rect x="760.84" y="689.36" width="43.86" height="30.92" fill="#19f080"/>
<rect x="804.70" y="689.36" width="43.86" height="30.92" fill="#19f080"/>
<rect x="848.56" y="689.36" width="43.86" height="30.92" fill="#008000"/>
<rect x="146.80" y="720.28" width="43.86" height="30.92" fill="#00c5ff"/>
<rect x="190.66" y="720.28" width="43.86" height="30.92" fill="#b30000"/>
<rect x="234.52" y="720.28" width="43.86" height="30.92" fill="#78ffff"/>
<rect x="278.38" y="720.28" width="43.86" height="30.92" fill="#17b5bd"/>
<rect x="322.24" y="720.28" width="43.86" height="30.92" fill="#17b5bd"/>
<rect x="366.10" y="720.28" width="43.86" height="30.92" fill="#17b5bd"/>
<rect x="409.96" y="720.28" width="43.86" height="30.92" fill="#17b5bd"/>
<rect x="453.82" y="720.28" width="43.86" height="30.92" fill="#17b5bd"/>
<rect x="497.68" y="720.28" width="43.86" height="30.92" fill="#ff0000"/>
<rect x="541.54" y="720.28" width="43.86" height="30.92" fill="#78ffff"/>
<rect x="585.40" y="720.28" width="43.86" height="30.92" fill="#ffc800"/>
<rect x="629.26" y="720.28" width="43.86" height="30.92" fill="#ffc800"/>
<rect x="673.12" y="720.28" width="43.86" height="30.92" fill="#008000"/>
<rect x="716.98" y="720.28" width="43.86" height="30.92" fill="#2e5fdd"/>
<rect x="760.84" y="720.28" width="43.86" height="30.92" fill="#19f080"/>
<rect x="804.70" y="720.28" width="43.86" height="30.92" fill="#9500cf"/>
<rect x="848.56" y="720.28" width="43.86" height="30.92" fill="#008000"/>
<rect x="146.80" y="751.20" width="43.86" height="30.92" fill="#78ffff"/>
<rect x="190.66" y="751.20" width="43.86" height="30.92" fill="#0000aa"/>
<rect x="234.52" y="751.20" width="43.86" height="30.92" fill="#0000aa"/>
<rect x="278.38" y="751.20" width="43.86" height="30.92" fill="#0000aa"/>
<rect x="322.24" y="751.20" width="43.86" height="30.92" fill="#17b5bd"/>
<rect x="366.10" y="751.20" width="43.86" height="30.92" fill="#0000aa"/>
<rect x="409.96" y="751.20" width="43.86" height="30.92" fill="#0000aa"/>
<rect x="453.82" y="751.20" width="43.86" height="30.92" fill="#00c5ff"/>
<rect x="497.68" y="751.20" width="43.86" height="30.92" fill="#0000aa"/>
<rect x="541.54" y="751.20" width="43.86" height="30.92" fill="#0000aa"/>
<rect x="585.40" y="751.20" width="43.86" height="30.92" fill="#78ffff"/>
<rect x="629.26" y="751.20" width="43.86" height="30.92" fill="#008000"/>
<rect x="673.12" y="751.20" width="43.86" height="30.92" fill="#0000aa"/>
<rect x="716.98" y="751.20" width="43.86" height="30.92" fill="#19f080"/>
<rect x="760.84" y="751.20" width="43.86" height="30.92" fill="#008000"/>
<rect x="804.70" y="751.20" width="43.86" height="30.92" fill="#46007a"/>
<rect x="146.80" y="782.12" width="43.86" height="30.92" fill="#78ffff"/>
<rect x="190.66" y="782.12" width="43.86" height="30.92" fill="#46007a"/>
<rect x="234.52" y="782.12" width="43.86" height="30.92" fill="#2e5fdd"/>
<rect x="278.38" y="782.12" width="43.86" height="30.92" fill="#0000aa"/>
<rect x="322.24" y="782.12" width="43.86" height="30.92" fill="#0000aa"/>
<rect x="366.10" y="782.12" width="43.86" height="30.92" fill="#17b5bd"/>
<rect x="409.96" y="782.12" width="43.86" height="30.92" fill="#0000aa"/>
<rect x="453.82" y="782.12" width="43.86" height="30.92" fill="#0000aa"/>
<rect x="497.68" y="782.12" width="43.86" height="30.92" fill="#0000aa"/>
<rect x="541.54" y="782.12" width="43.86" height="30.92" fill="#0000aa"/>
<rect x="585.40" y="782.12" width="43.86" height="30.92" fill="#46007a"/>
<rect x="629.26" y="782.12" width="43.86" height="30.92" fill="#46007a"/>
<rect x="673.12" y="782.12" width="43.86" height="30.92" fill="#46007a"/>
<rect x="716.98" y="782.12" width="43.86" height="30.92" fill="#46007a"/>
<rect x="760.84" y="782.12" width="43.86" height="30.92" fill="#008000"/>
<rect x="804.70" y="782.12" width="43.86" height="30.92" fill="#46007a"/>
<rect x="146.80" y="813.04" width="43.86" height="30.92" fill="#ff0000"/>
<rect x="190.66" y="813.04" width="43.86" height="30.92" fill="#46007a"/>
<rect x="234.52" y="813.04" width="43.86" height="30.92" fill="#7a7a7a"/>
<rect x="278.38" y="813.04" width="43.86" height="30.92" fill="#0000aa"/>
<rect x="322.24" y="813.04" width="43.86" height="30.92" fill="#0000aa"/>
<rect x="366.10" y="813.04" width="43.86" height="30.92" fill="#46007a"/>
<rect x="409.96" y="813.04" width="43.86" height="30.92" fill="#0000aa"/>
<rect x="453.82" y="813.04" width="43.86" height="30.92" fill="#46007a"/>
<rect x="497.68" y="813.04" width="43.86" height="30.92" fill="#2e5fdd"/>
<rect x="541.54" y="813.04" width="43.86" height="30.92" fill="#46007a"/>
<rect x="585.40" y="813.04" width="43.86" height="30.92" fill="#46007a"/>
<rect x="629.26" y="813.04" width="43.86" height="30.92" fill="#46007a"/>
<rect x="673.12" y="813.04" width="43.86" height="30.92" fill="#46007a"/>
<rect x="716.98" y="813.04" width="43.86" height="30.92" fill="#46007a"/>
<rect x="760.84" y="813.04" width="43.86" height="30.92" fill="#46007a"/>
<rect x="804.70" y="813.04" width="43.86" height="16.39" fill="#46007a"/>
<rect x="804.70" y="829.43" width="43.86" height="14.53" fill="#9500cf"/>
<rect x="146.80" y="843.96" width="43.86" height="30.92" fill="#7a7a7a"/>
<rect x="190.66" y="843.96" width="43.86" height="30.92" fill="#9500cf"/>
<rect x="234.52" y="843.96" width="43.86" height="30.92" fill="#7a7a7a"/>
<rect x="278.38" y="843.96" width="43.86" height="30.92" fill="#0000aa"/>
<rect x="322.24" y="843.96" width="43.86" height="30.92" fill="#17b5bd"/>
<rect x="366.10" y="843.96" width="43.86" height="30.92" fill="#9500cf"/>
<rect x="409.96" y="843.96" width="43.86" height="30.92" fill="#0000aa"/>
<rect x="453.82" y="843.96" width="43.86" height="30.92" fill="#46007a"/>
<rect x="497.68" y="843.96" width="43.86" height="30.92" fill="#46007a"/>
<rect x="541.54" y="843.96" width="43.86" height="30.92" fill="#0000aa"/>
<rect x="585.40" y="843.96" width="43.86" height="30.92" fill="#46007a"/>
<rect x="629.26" y="843.96" width="43.86" height="30.92" fill="#0000aa"/>
<rect x="673.12" y="843.96" width="43.86" height="30.92" fill="#46007a"/>
<rect x="760.84" y="843.96" width="43.86" height="30.92" fill="#46007a"/>
<path d="M146.80 596.60h43.86v30.92h-43.86zM190.66 596.60h43.86v30.92h-43.86zM234.52 596.60h43.86v30.92h-43.86zM278.38 596.60h43.86v30.92h-43.86zM322.24 596.60h43.86v30.92h-43.86zM366.10 596.60h43.86v30.92h-43.86zM409.96 596.60h43.86v30.92h-43.86zM453.82 596.60h43.86v30.92h-43.86zM497.68 596.60h43.86v30.92h-43.86zM541.54 596.60h43.86v30.92h-43.86zM585.40 596.60h43.86v30.92h-43.86zM673.12 596.60h43.86v30.92h-43.86zM716.98 596.60h43.86v30.92h-43.86zM760.84 596.60h43.86v30.92h-43.86zM804.70 596.60h43.86v30.92h-43.86zM848.56 596.60h43.86v30.92h-43.86zM146.80 627.52h43.86v30.92h-43.86zM190.66 627.52h43.86v30.92h-43.86zM234.52 627.52h43.86v30.92h-43.86zM278.38 627.52h43.86v30.92h-43.86zM322.24 627.52h43.86v30.92h-43.86zM366.10 627.52h43.86v30.92h-43.86zM409.96 627.52h43.86v30.92h-43.86zM453.82 627.52h43.86v30.92h-43.86zM497.68 627.52h43.86v30.92h-43.86zM541.54 627.52h43.86v30.92h-43.86zM585.40 627.52h43.86v30.92h-43.86zM629.26 627.52h43.86v30.92h-43.86zM673.12 627.52h43.86v30.92h-43.86zM716.98 627.52h43.86v30.92h-43.86zM760.84 627.52h43.86v30.92h-43.86zM804.70 627.52h43.86v30.92h-43.86zM848.56 627.52h43.86v30.92h-43.86zM146.80 658.44h43.86v30.92h-43.86zM190.66 658.44h43.86v30.92h-43.86zM234.52 658.44h43.86v30.92h-43.86zM278.38 658.44h43.86v30.92h-43.86zM322.24 658.44h43.86v30.92h-43.86zM366.10 658.44h43.86v30.92h-43.86zM409.96 658.44h43.86v30.92h-43.86zM453.82 658.44h43.86v30.92h-43.86zM497.68 658.44h43.86v30.92h-43.86zM541.54 658.44h43.86v30.92h-43.86zM585.40 658.44h43.86v30.92h-43.86zM629.26 658.44h43.86v30.92h-43.86zM673.12 658.44h43.86v30.92h-43.86zM716.98 658.44h43.86v30.92h-43.86zM760.84 658.44h43.86v30.92h-43.86zM804.70 658.44h43.86v30.92h-43.86zM848.56 658.44h43.86v30.92h-43.86zM146.80 689.36h43.86v30.92h-43.86zM190.66 689.36h43.86v30.92h-43.86zM234.52 689.36h43.86v30.92h-43.86zM278.38 689.36h43.86v30.92h-43.86zM322.24 689.36h43.86v30.92h-43.86zM366.10 689.36h43.86v30.92h-43.86zM409.96 689.36h43.86v30.92h-43.86zM453.82 689.36h43.86v30.92h-43.86zM497.68 689.36h43.86v30.92h-43.86zM541.54 689.36h43.86v30.92h-43.86zM585.40 689.36h43.86v30.92h-43.86zM673.12 689.36h43.86v30.92h-43.86zM716.98 689.36h43.86v30.92h-43.86zM760.84 689.36h43.86v30.92h-43.86zM804.70 689.36h43.86v30.92h-43.86zM848.56 689.36h43.86v30.92h-43.86zM146.80 720.28h43.86v30.92h-43.86zM190.66 720.28h43.86v30.92h-43.86zM234.52 720.28h43.86v30.92h-43.86zM278.38 720.28h43.86v30.92h-43.86zM322.24 720.28h43.86v30.92h-43.86zM366.10 720.28h43.86v30.92h-43.86zM409.96 720.28h43.86v30.92h-43.86zM453.82 720.28h43.86v30.92h-43.86zM497.68 720.28h43.86v30.92h-43.86zM541.54 720.28h43.86v30.92h-43.86zM585.40 720.28h43.86v30.92h-43.86zM629.26 720.28h43.86v30.92h-43.86zM673.12 720.28h43.86v30.92h-43.86zM716.98 720.28h43.86v30.92h-43.86zM760.84 720.28h43.86v30.92h-43.86zM804.70 720.28h43.86v30.92h-43.86zM848.56 720.28h43.86v30.92h-43.86zM146.80 751.20h43.86v30.92h-43.86zM190.66 751.20h43.86v30.92h-43.86zM234.52 751.20h43.86v30.92h-43.86zM278.38 751.20h43.86v30.92h-43.86zM322.24 751.20h43.86v30.92h-43.86zM366.10 751.20h43.86v30.92h-43.86zM409.96 751.20h43.86v30.92h-43.86zM453.82 751.20h43.86v30.92h-43.86zM497.68 751.20h43.86v30.92h-43.86zM541.54 751.20h43.86v30.92h-43.86zM585.40 751.20h43.86v30.92h-43.86zM629.26 751.20h43.86v30.92h-43.86zM673.12 751.20h43.86v30.92h-43.86zM716.98 751.20h43.86v30.92h-43.86zM760.84 751.20h43.86v30.92h-43.86zM804.70 751.20h43.86v30.92h-43.86zM146.80 782.12h43.86v30.92h-43.86zM190.66 782.12h43.86v30.92h-43.86zM234.52 782.12h43.86v30.92h-43.86zM278.38 782.12h43.86v30.92h-43.86zM322.24 782.12h43.86v30.92h-43.86zM366.10 782.12h43.86v30.92h-43.86zM409.96 782.12h43.86v30.92h-43.86zM453.82 782.12h43.86v30.92h-43.86zM497.68 782.12h43.86v30.92h-43.86zM541.54 782.12h43.86v30.92h-43.86zM585.40 782.12h43.86v30.92h-43.86zM629.26 782.12h43.86v30.92h-43.86zM673.12 782.12h43.86v30.92h-43.86zM716.98 782.12h43.86v30.92h-43.86zM760.84 782.12h43.86v30.92h-43.86zM804.70 782.12h43.86v30.92h-43.86zM146.80 813.04h43.86v30.92h-43.86zM190.66 813.04h43.86v30.92h-43.86zM234.52 813.04h43.86v30.92h-43.86zM278.38 813.04h43.86v30.92h-43.86zM322.24 813.04h43.86v30.92h-43.86zM366.10 813.04h43.86v30.92h-43.86zM409.96 813.04h43.86v30.92h-43.86zM453.82 813.04h43.86v30.92h-43.86zM497.68 813.04h43.86v30.92h-43.86zM541.54 813.04h43.86v30.92h-43.86zM585.40 813.04h43.86v30.92h-43.86zM629.26 813.04h43.86v30.92h-43.86zM673.12 813.04h43.86v30.92h-43.86zM716.98 813.04h43.86v30.92h-43.86zM760.84 813.04h43.86v30.92h-43.86zM804.70 813.04h43.86v30.92h-43.86zM146.80 843.96h43.86v30.92h-43.86zM190.66 843.96h43.86v30.92h-43.86zM234.52 843.96h43.86v30.92h-43.86zM278.38 843.96h43.86v30.92h-43.86zM322.24 843.96h43.86v30.92h-43.86zM366.10 843.96h43.86v30.92h-43.86zM409.96 843.96h43.86v30.92h-43.86zM453.82 843.96h43.86v30.92h-43.86zM497.68 843.96h43.86v30.92h-43.86zM541.54 843.96h43.86v30.92h-43.86zM585.40 843.96h43.86v30.92h-43.86zM629.26 843.96h43.86v30.92h-43.86zM673.12 843.96h43.86v30.92h-43.86zM760.84 843.96h43.86v30.92h-43.86z" fill="none" stroke="#fff" stroke-opacity="0.16" stroke-width="0.9"/>
<rect x="234.52" y="813.04" width="43.86" height="30.92" fill="none" stroke="#333" stroke-width="0.9"/>
<rect x="146.80" y="843.96" width="43.86" height="30.92" fill="none" stroke="#333" stroke-width="0.9"/>
<rect x="234.52" y="843.96" width="43.86" height="30.92" fill="none" stroke="#333" stroke-width="0.9"/>
<text x="651.99" y="618.96" font-size="26" font-weight="bold" fill="#ff0000" text-anchor="middle">x</text>
<text x="651.99" y="711.72" font-size="26" font-weight="bold" fill="#ff0000" text-anchor="middle">x</text>
<text x="739.71" y="866.32" font-size="26" font-weight="bold" fill="#ff0000" text-anchor="middle">x</text>
<path d="M409.8 515.8V875.0" stroke="#1a1a1a" stroke-width="1.9"/>
<path d="M716.9 515.8V875.0" stroke="#1a1a1a" stroke-width="1.9"/>
<path d="M848.2 515.8V844.0" stroke="#1a1a1a" stroke-width="1.9"/>
<text x="70.6" y="538.2" font-size="37" fill="#333">(b)</text>
<text x="159.0" y="545.3" font-size="20.8" fill="#2a2a2a">Western Subtropical Gyre</text>
<text x="445.5" y="545.3" font-size="20.8" fill="#2a2a2a">Eastern</text>
<text x="528.6" y="545.3" font-size="20.8" fill="#2a2a2a">Subtropical</text>
<text x="644.7" y="545.3" font-size="20.8" fill="#2a2a2a">Gyre</text>
<text x="748.8" y="534.6" font-size="20.8" fill="#2a2a2a">Agulhas</text>
<text x="740.2" y="558.8" font-size="20.8" fill="#2a2a2a">Leackage</text>
<text x="860.5" y="545.3" font-size="20.8" fill="#2a2a2a">Benguela</text>
<text x="61.6" y="592.3" font-size="13.4" fill="#1a1a1a" textLength="83" lengthAdjust="spacingAndGlyphs">Depth/Stations</text>
<text x="167.4" y="592.3" font-size="13.2" fill="#1a1a1a" text-anchor="middle">394</text>
<text x="211.0" y="592.3" font-size="13.2" fill="#1a1a1a" text-anchor="middle">382</text>
<text x="257.5" y="592.3" font-size="13.2" fill="#1a1a1a" text-anchor="middle">370</text>
<text x="299.0" y="592.3" font-size="13.2" fill="#1a1a1a" text-anchor="middle">356</text>
<text x="343.4" y="592.3" font-size="13.2" fill="#1a1a1a" text-anchor="middle">344</text>
<text x="385.3" y="592.3" font-size="13.2" fill="#1a1a1a" text-anchor="middle">332</text>
<text x="433.4" y="592.3" font-size="13.2" fill="#1a1a1a" text-anchor="middle">320</text>
<text x="477.5" y="592.3" font-size="13.2" fill="#1a1a1a" text-anchor="middle">306</text>
<text x="518.1" y="592.3" font-size="13.2" fill="#1a1a1a" text-anchor="middle">193</text>
<text x="561.1" y="592.3" font-size="13.2" fill="#1a1a1a" text-anchor="middle">278</text>
<text x="607.5" y="592.3" font-size="13.2" fill="#1a1a1a" text-anchor="middle">265</text>
<text x="648.8" y="592.3" font-size="13.2" fill="#1a1a1a" text-anchor="middle">252</text>
<text x="693.8" y="592.3" font-size="13.2" fill="#1a1a1a" text-anchor="middle">239</text>
<text x="740.2" y="592.3" font-size="13.2" fill="#1a1a1a" text-anchor="middle">227</text>
<text x="782.3" y="592.3" font-size="13.2" fill="#1a1a1a" text-anchor="middle">214</text>
<text x="829.0" y="592.3" font-size="13.2" fill="#1a1a1a" text-anchor="middle">202</text>
<text x="871.7" y="592.3" font-size="13.2" fill="#1a1a1a" text-anchor="middle">192</text>
<text x="135.8" y="623.4" font-size="22.2" fill="#111" text-anchor="end">0 - 20</text>
<text x="135.8" y="650.0" font-size="22.2" fill="#111" text-anchor="end">20 - 40</text>
<text x="135.8" y="682.6" font-size="22.2" fill="#111" text-anchor="end">40 - 60</text>
<text x="135.8" y="714.0" font-size="22.2" fill="#111" text-anchor="end">60 - 80</text>
<text x="135.8" y="746.4" font-size="22.2" fill="#111" text-anchor="end">80 - 100</text>
<text x="135.8" y="775.4" font-size="22.2" fill="#111" text-anchor="end">100 - 200</text>
<text x="135.8" y="807.2" font-size="22.2" fill="#111" text-anchor="end">200 - 300</text>
<text x="135.8" y="837.6" font-size="22.2" fill="#111" text-anchor="end">300 - 500</text>
<text x="135.8" y="870.8" font-size="22.2" fill="#111" text-anchor="end">500 - 700</text>
<text transform="translate(16.4 735) rotate(-90)" font-size="22" fill="#111" text-anchor="middle">Depth layers (m)</text>
<rect x="929.4" y="615.4" width="21.3" height="45.3" fill="#b30000"/>
<rect x="950.7" y="615.4" width="21.5" height="45.3" fill="#ff0000"/>
<rect x="972.2" y="615.4" width="21.5" height="45.3" fill="#ffc800"/>
<rect x="929.4" y="660.7" width="21.3" height="44.6" fill="#17b5bd"/>
<rect x="950.7" y="660.7" width="21.5" height="44.6" fill="#00c5ff"/>
<rect x="972.2" y="660.7" width="21.5" height="44.6" fill="#78ffff"/>
<rect x="950.7" y="705.3" width="21.5" height="45.0" fill="#19f080"/>
<rect x="972.2" y="705.3" width="21.5" height="45.0" fill="#008000"/>
<rect x="907.8" y="750.3" width="21.6" height="44.4" fill="#2e5fdd"/>
<rect x="929.4" y="750.3" width="21.3" height="44.4" fill="#0000aa"/>
<rect x="950.7" y="750.3" width="21.5" height="44.4" fill="#46007a"/>
<rect x="972.2" y="750.3" width="21.5" height="44.4" fill="#9500cf"/>
<rect x="972.2" y="794.7" width="21.5" height="45.3" fill="#7a7a7a"/>
<text x="1006.3" y="646.6" font-size="23.4" fill="#222">Upper mixed layer</text>
<text x="1006.3" y="691.1" font-size="23.4" fill="#222">Lower mixed layer</text>
<text x="1006.3" y="736.5" font-size="23.4" fill="#222">Upwelling</text>
<text x="1006.3" y="783.0" font-size="23.4" fill="#222">Thermocline</text>
<text x="1006.3" y="832.1" font-size="23.4" fill="#222">No group</text>
<path d="M974.8 906.4H1245" stroke="#333" stroke-width="2"/>
<path d="M1260.4 906.6L1235.4 896L1241 906.6L1235.4 917.3Z" fill="#333"/>
<text x="393.1" y="939.4" font-size="36.5" fill="#000">Raw</text>
<path d="M1320.00 596.10H1364.15V627.40H1320.00ZM1363.55 596.10H1407.70V627.40H1363.55ZM1407.10 596.10H1451.25V627.40H1407.10ZM1450.65 596.10H1494.80V627.40H1450.65ZM1494.20 596.10H1538.35V627.40H1494.20ZM1537.75 596.10H1581.90V627.40H1537.75ZM1581.30 596.10H1625.45V627.40H1581.30ZM1624.85 596.10H1669.00V627.40H1624.85ZM1668.40 596.10H1712.55V627.40H1668.40ZM1711.95 596.10H1756.10V627.40H1711.95ZM1755.50 596.10H1799.65V627.40H1755.50ZM1320.00 626.80H1364.15V658.50H1320.00ZM1363.55 626.80H1407.70V658.50H1363.55ZM1407.10 626.80H1451.25V658.50H1407.10ZM1450.65 626.80H1494.80V658.50H1450.65ZM1494.20 626.80H1538.35V658.50H1494.20ZM1537.75 626.80H1581.90V658.50H1537.75ZM1581.30 626.80H1625.45V658.50H1581.30ZM1624.85 626.80H1669.00V658.50H1624.85ZM1668.40 626.80H1712.55V658.50H1668.40ZM1711.95 626.80H1756.10V658.50H1711.95ZM1755.50 626.80H1799.65V658.50H1755.50ZM1407.10 657.90H1451.25V688.90H1407.10ZM1494.20 657.90H1538.35V688.90H1494.20ZM1537.75 657.90H1581.90V688.90H1537.75ZM1581.30 657.90H1625.45V688.90H1581.30ZM1624.85 657.90H1669.00V688.90H1624.85ZM1668.40 657.90H1712.55V688.90H1668.40ZM1755.50 657.90H1799.65V688.90H1755.50ZM1624.85 688.30H1669.00V719.60H1624.85ZM1668.40 688.30H1712.55V719.60H1668.40ZM1668.40 719.00H1712.55V750.40H1668.40Z" fill="#e8323a"/>
<path d="M1799.05 596.10H1843.20V627.40H1799.05ZM1842.60 596.10H1886.75V627.40H1842.60ZM1886.15 596.10H1930.30V627.40H1886.15ZM1929.70 596.10H1973.85V627.40H1929.70ZM1973.25 596.10H2017.40V627.40H1973.25ZM1799.05 626.80H1843.20V658.50H1799.05ZM1842.60 626.80H1886.75V658.50H1842.60ZM1886.15 626.80H1930.30V658.50H1886.15ZM1929.70 626.80H1973.85V658.50H1929.70ZM1973.25 626.80H2017.40V658.50H1973.25ZM2016.80 626.80H2060.95V658.50H2016.80ZM1799.05 657.90H1843.20V688.90H1799.05ZM1842.60 657.90H1886.75V688.90H1842.60ZM1799.05 688.30H1843.20V719.60H1799.05ZM1755.50 719.00H1799.65V750.40H1755.50ZM1799.05 719.00H1843.20V750.40H1799.05Z" fill="#ffea00"/>
<path d="M2016.80 596.10H2060.95V627.40H2016.80ZM1929.70 657.90H1973.85V688.90H1929.70ZM1973.25 657.90H2017.40V688.90H1973.25ZM2016.80 657.90H2060.95V688.90H2016.80ZM1929.70 688.30H1973.85V719.60H1929.70ZM1973.25 688.30H2017.40V719.60H1973.25ZM2016.80 688.30H2060.95V719.60H2016.80ZM1842.60 719.00H1886.75V750.40H1842.60ZM1886.15 719.00H1930.30V750.40H1886.15ZM1929.70 719.00H1973.85V750.40H1929.70ZM2016.80 719.00H2060.95V750.40H2016.80ZM1799.05 749.80H1843.20V781.30H1799.05ZM1886.15 749.80H1930.30V781.30H1886.15ZM1929.70 749.80H1973.85V781.30H1929.70ZM1929.70 780.70H1973.85V811.90H1929.70Z" fill="#1f8b24"/>
<path d="M1320.00 657.90H1364.15V688.90H1320.00ZM1363.55 657.90H1407.70V688.90H1363.55ZM1450.65 657.90H1494.80V688.90H1450.65ZM1320.00 688.30H1364.15V719.60H1320.00ZM1363.55 688.30H1407.70V719.60H1363.55ZM1407.10 688.30H1451.25V719.60H1407.10ZM1450.65 688.30H1494.80V719.60H1450.65ZM1494.20 688.30H1538.35V719.60H1494.20ZM1537.75 688.30H1581.90V719.60H1537.75ZM1581.30 688.30H1625.45V719.60H1581.30ZM1320.00 719.00H1364.15V750.40H1320.00ZM1363.55 719.00H1407.70V750.40H1363.55ZM1407.10 719.00H1451.25V750.40H1407.10ZM1450.65 719.00H1494.80V750.40H1450.65ZM1494.20 719.00H1538.35V750.40H1494.20ZM1537.75 719.00H1581.90V750.40H1537.75ZM1581.30 719.00H1625.45V750.40H1581.30ZM1624.85 719.00H1669.00V750.40H1624.85ZM1320.00 749.80H1364.15V781.30H1320.00ZM1494.20 749.80H1538.35V781.30H1494.20ZM1624.85 749.80H1669.00V781.30H1624.85ZM1320.00 780.70H1364.15V811.90H1320.00Z" fill="#51acc3"/>
<path d="M1711.95 657.90H1756.10V688.90H1711.95ZM1886.15 657.90H1930.30V688.90H1886.15ZM1711.95 688.30H1756.10V719.60H1711.95ZM1755.50 688.30H1799.65V719.60H1755.50ZM1842.60 688.30H1886.75V719.60H1842.60ZM1886.15 688.30H1930.30V719.60H1886.15ZM1711.95 719.00H1756.10V750.40H1711.95ZM1755.50 749.80H1799.65V781.30H1755.50Z" fill="#aedcfc"/>
<path d="M1973.25 719.00H2017.40V750.40H1973.25ZM1842.60 749.80H1886.75V781.30H1842.60ZM1973.25 749.80H2017.40V781.30H1973.25ZM1363.55 780.70H1407.70V811.90H1363.55ZM1755.50 780.70H1799.65V811.90H1755.50ZM1799.05 780.70H1843.20V811.90H1799.05ZM1842.60 780.70H1886.75V811.90H1842.60ZM1886.15 780.70H1930.30V811.90H1886.15ZM1973.25 780.70H2017.40V811.90H1973.25ZM1363.55 811.30H1407.70V842.50H1363.55ZM1537.75 811.30H1581.90V842.50H1537.75ZM1624.85 811.30H1669.00V842.50H1624.85ZM1668.40 811.30H1712.55V842.50H1668.40ZM1711.95 811.30H1756.10V842.50H1711.95ZM1755.50 811.30H1799.65V842.50H1755.50ZM1799.05 811.30H1843.20V842.50H1799.05ZM1842.60 811.30H1886.75V842.50H1842.60ZM1886.15 811.30H1930.30V842.50H1886.15ZM1929.70 811.30H1973.85V842.50H1929.70ZM1973.25 811.30H2017.40V842.50H1973.25ZM1363.55 841.90H1407.70V872.80H1363.55ZM1537.75 841.90H1581.90V872.80H1537.75ZM1624.85 841.90H1669.00V872.80H1624.85ZM1668.40 841.90H1712.55V872.80H1668.40ZM1711.95 841.90H1756.10V872.80H1711.95ZM1755.50 841.90H1799.65V872.80H1755.50ZM1799.05 841.90H1843.20V872.80H1799.05ZM1842.60 841.90H1886.75V872.80H1842.60ZM1886.15 841.90H1930.30V872.80H1886.15ZM1929.70 841.90H1973.85V872.80H1929.70Z" fill="#43057b"/>
<path d="M1363.55 749.80H1407.70V781.30H1363.55ZM1407.10 749.80H1451.25V781.30H1407.10ZM1450.65 749.80H1494.80V781.30H1450.65ZM1537.75 749.80H1581.90V781.30H1537.75ZM1581.30 749.80H1625.45V781.30H1581.30ZM1668.40 749.80H1712.55V781.30H1668.40ZM1711.95 749.80H1756.10V781.30H1711.95ZM1407.10 780.70H1451.25V811.90H1407.10ZM1450.65 780.70H1494.80V811.90H1450.65ZM1494.20 780.70H1538.35V811.90H1494.20ZM1537.75 780.70H1581.90V811.90H1537.75ZM1581.30 780.70H1625.45V811.90H1581.30ZM1624.85 780.70H1669.00V811.90H1624.85ZM1668.40 780.70H1712.55V811.90H1668.40ZM1711.95 780.70H1756.10V811.90H1711.95ZM1450.65 811.30H1494.80V842.50H1450.65ZM1494.20 811.30H1538.35V842.50H1494.20ZM1581.30 811.30H1625.45V842.50H1581.30ZM1450.65 841.90H1494.80V872.80H1450.65ZM1494.20 841.90H1538.35V872.80H1494.20ZM1581.30 841.90H1625.45V872.80H1581.30Z" fill="#011166"/>
<path d="M1320.00 811.30H1364.15V842.50H1320.00ZM1407.10 811.30H1451.25V842.50H1407.10ZM1320.00 841.90H1364.15V872.80H1320.00ZM1407.10 841.90H1451.25V872.80H1407.10Z" fill="#ffffff"/>
<path d="M1799.35 596.40V627.10M2017.10 596.40V627.10M2060.65 596.40V627.10M2017.10 627.10H2060.65M1320.30 596.40V627.10M1320.30 658.20H1363.85M1363.85 658.20H1407.40M1450.95 658.20H1494.50M1712.25 658.20H1755.80M1799.35 627.10V658.20M1886.45 658.20H1930.00M1930.00 658.20H1973.55M1973.55 658.20H2017.10M2060.65 627.10V658.20M2017.10 658.20H2060.65M1320.30 627.10V658.20M1407.40 658.20V688.60M1450.95 658.20V688.60M1407.40 688.60H1450.95M1494.50 658.20V688.60M1494.50 688.60H1538.05M1538.05 688.60H1581.60M1581.60 688.60H1625.15M1712.25 658.20V688.60M1755.80 658.20V688.60M1799.35 658.20V688.60M1755.80 688.60H1799.35M1886.45 658.20V688.60M1842.90 688.60H1886.45M1930.00 658.20V688.60M2060.65 658.20V688.60M1320.30 658.20V688.60M1625.15 688.60V719.30M1625.15 719.30H1668.70M1712.25 688.60V719.30M1799.35 688.60V719.30M1755.80 719.30H1799.35M1842.90 688.60V719.30M1842.90 719.30H1886.45M1930.00 688.60V719.30M1886.45 719.30H1930.00M1973.55 719.30H2017.10M2060.65 688.60V719.30M1320.30 688.60V719.30M1363.85 750.10H1407.40M1407.40 750.10H1450.95M1450.95 750.10H1494.50M1538.05 750.10H1581.60M1581.60 750.10H1625.15M1668.70 719.30V750.10M1712.25 719.30V750.10M1668.70 750.10H1712.25M1755.80 719.30V750.10M1712.25 750.10H1755.80M1755.80 750.10H1799.35M1842.90 719.30V750.10M1799.35 750.10H1842.90M1842.90 750.10H1886.45M1973.55 719.30V750.10M2017.10 719.30V750.10M2060.65 719.30V750.10M2017.10 750.10H2060.65M1320.30 719.30V750.10M1363.85 750.10V781.00M1363.85 781.00H1407.40M1494.50 750.10V781.00M1538.05 750.10V781.00M1494.50 781.00H1538.05M1625.15 750.10V781.00M1668.70 750.10V781.00M1625.15 781.00H1668.70M1755.80 750.10V781.00M1799.35 750.10V781.00M1755.80 781.00H1799.35M1842.90 750.10V781.00M1799.35 781.00H1842.90M1886.45 750.10V781.00M1886.45 781.00H1930.00M1973.55 750.10V781.00M2017.10 750.10V781.00M1320.30 750.10V781.00M1363.85 781.00V811.60M1320.30 811.60H1363.85M1407.40 781.00V811.60M1407.40 811.60H1450.95M1538.05 811.60H1581.60M1625.15 811.60H1668.70M1668.70 811.60H1712.25M1755.80 781.00V811.60M1712.25 811.60H1755.80M1930.00 781.00V811.60M1973.55 781.00V811.60M1930.00 811.60H1973.55M2017.10 781.00V811.60M1320.30 781.00V811.60M1363.85 811.60V842.20M1407.40 811.60V842.20M1450.95 811.60V842.20M1538.05 811.60V842.20M1581.60 811.60V842.20M1625.15 811.60V842.20M2017.10 811.60V842.20M1973.55 842.20H2017.10M1320.30 811.60V842.20M1363.85 842.20V872.50M1320.30 872.50H1363.85M1407.40 842.20V872.50M1363.85 872.50H1407.40M1450.95 842.20V872.50M1407.40 872.50H1450.95M1450.95 872.50H1494.50M1538.05 842.20V872.50M1494.50 872.50H1538.05M1581.60 842.20V872.50M1538.05 872.50H1581.60M1625.15 842.20V872.50M1581.60 872.50H1625.15M1625.15 872.50H1668.70M1668.70 872.50H1712.25M1712.25 872.50H1755.80M1755.80 872.50H1799.35M1799.35 872.50H1842.90M1842.90 872.50H1886.45M1886.45 872.50H1930.00M1973.55 842.20V872.50M1930.00 872.50H1973.55M1320.30 842.20V872.50M1320.30 596.40H1363.85M1363.85 596.40H1407.40M1407.40 596.40H1450.95M1450.95 596.40H1494.50M1494.50 596.40H1538.05M1538.05 596.40H1581.60M1581.60 596.40H1625.15M1625.15 596.40H1668.70M1668.70 596.40H1712.25M1712.25 596.40H1755.80M1755.80 596.40H1799.35M1799.35 596.40H1842.90M1842.90 596.40H1886.45M1886.45 596.40H1930.00M1930.00 596.40H1973.55M1973.55 596.40H2017.10M2017.10 596.40H2060.65" fill="none" stroke="#333" stroke-width="1.3" stroke-linecap="square"/>
<text x="1309.5" y="622.4" font-size="22.0" fill="#111" text-anchor="end">0 - 20</text>
<text x="1309.5" y="650.2" font-size="22.0" fill="#111" text-anchor="end">20 - 40</text>
<text x="1309.5" y="682.6" font-size="22.0" fill="#111" text-anchor="end">40 - 60</text>
<text x="1309.5" y="713.5" font-size="22.0" fill="#111" text-anchor="end">60 - 80</text>
<text x="1309.5" y="746.0" font-size="22.0" fill="#111" text-anchor="end">80 - 100</text>
<text x="1309.5" y="775.3" font-size="22.0" fill="#111" text-anchor="end">100 - 200</text>
<text x="1309.5" y="806.2" font-size="22.0" fill="#111" text-anchor="end">200 - 300</text>
<text x="1309.5" y="837.0" font-size="22.0" fill="#111" text-anchor="end">300 - 500</text>
<text x="1309.5" y="869.5" font-size="22.0" fill="#111" text-anchor="end">500 - 700</text>
<text x="1308.5" y="538.2" font-size="36.5" fill="#333">(c)</text>
<text x="1591.1" y="930.9" font-size="36.6" fill="#000">Interpretation</text>
<text x="1423.0" y="637.4" class="sf" font-size="33.0" fill="#fdc64a" textLength="277.0" lengthAdjust="spacingAndGlyphs" filter="url(#shd)">Gyre surface fauna</text>
<text x="1812.0" y="621.6" class="sf" font-size="25.5" fill="#ff7b16" textLength="197.5" lengthAdjust="spacingAndGlyphs" filter="url(#glw)">Agulhas Leakage</text>
<text x="1812.0" y="651.9" class="sf" font-size="25.5" fill="#ff7b16" textLength="154.0" lengthAdjust="spacingAndGlyphs" filter="url(#glw)">surface fauna</text>
<text x="1719.0" y="711.1" class="sf" font-size="18.0" fill="#1592b3" textLength="204.0" lengthAdjust="spacingAndGlyphs" filter="url(#glw)">Eastern subsurface fauna</text>
<text x="1324.5" y="734.8" class="sf" font-size="28.0" fill="#00ffff" textLength="337.5" lengthAdjust="spacingAndGlyphs" filter="url(#shd)">Western subsurface fauna</text>
<text x="1449.3" y="804.5" class="sf" font-size="33.0" fill="#8d9bf0" textLength="120.6" lengthAdjust="spacingAndGlyphs" filter="url(#shd2)">Western</text>
<text x="1799.0" y="830.7" class="sf" font-size="33.0" fill="#8d9bf0" textLength="107.5" lengthAdjust="spacingAndGlyphs" filter="url(#shd2)">Eastern</text>
<text x="1545.0" y="863.2" class="sf" font-size="33.0" fill="#8d9bf0" textLength="277.5" lengthAdjust="spacingAndGlyphs" filter="url(#shd2)">Thermocline fauna</text>
<path d="M1528.7 808.2L1592.6 841.2M1794.2 824.2L1752.4 845.1" stroke="#fff" stroke-width="2"/>
<text transform="translate(1973.3 716.3) rotate(-35)" x="0" y="9.4" text-anchor="middle" class="sf" font-size="27.4" fill="#22ff22" filter="url(#shd3)">Upwelling fauna</text>
</svg></body></html>
